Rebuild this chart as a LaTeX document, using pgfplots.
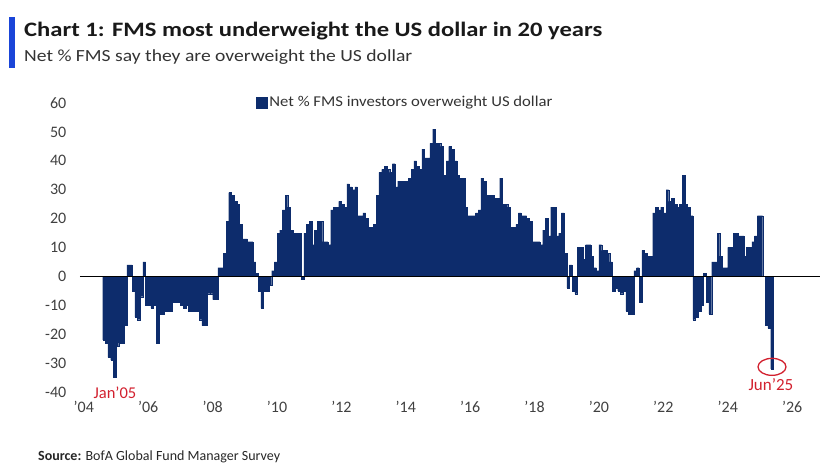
\documentclass[border=0pt]{standalone}
\usepackage{graphicx}
\usepackage{pgfplots}
\pgfplotsset{compat=1.18}
\usepackage{pgfplotstable}
\usepackage{fontspec}
\setmainfont{Carlito}

\definecolor{barnavy}{HTML}{0D2C6C}
\definecolor{accentblue}{HTML}{1A45D8}
\definecolor{tickgray}{HTML}{404040}
\definecolor{notered}{HTML}{D2202E}

% Net % of FMS investors overweight the US dollar, monthly
% (m = months since Jan 2004)
\pgfplotstableread{
m v
8 -22
9 -23
10 -28
11 -29
12 -35
13 -24
14 -23
15 -23
16 -17
17 4
18 4
19 -5
20 -14
21 -15
22 -7
23 5
24 -10
25 -10
26 -11
27 -10
28 -23
29 -13
30 -13
31 -12
32 -12
33 -12
34 -9
35 -9
36 -9
37 -10
38 -11
39 -10
40 -12
41 -12
42 -12
43 -12
44 -15
45 -17
46 -17
47 -6
48 -6
49 -8
50 -8
51 3
52 3
53 8
54 19
55 29
56 28
57 26
58 25
59 18
60 13
61 13
62 12
63 12
64 5
65 1
66 -5
67 -11
68 -5
69 -5
70 -3
71 2
72 5
73 15
74 16
75 23
76 28
77 24
78 16
79 15
80 15
81 15
82 -1
83 15
84 18
85 19
86 11
87 16
88 19
89 19
90 12
91 12
92 11
93 23
94 24
95 24
96 26
97 25
98 24
99 32
100 31
101 30
102 31
103 21
104 21
105 22
106 20
107 17
108 17
109 18
110 28
111 36
112 37
113 38
114 37
115 36
116 39
117 31
118 33
119 33
120 33
121 33
122 34
123 37
124 40
125 38
126 37
127 44
128 41
129 41
130 46
131 51
132 46
133 46
134 45
135 35
136 40
137 45
138 44
139 40
140 35
141 34
142 34
143 24
144 21
145 21
146 21
147 22
148 23
149 34
150 33
151 28
152 28
153 28
154 27
155 27
156 34
157 25
158 25
159 24
160 17
161 17
162 18
163 22
164 21
165 21
166 20
167 19
168 12
169 12
170 12
171 11
172 16
173 20
174 14
175 24
176 24
177 14
178 15
179 22
180 8
181 -4
182 4
183 -5
184 -6
185 10
186 10
187 6
188 11
189 11
190 7
191 3
192 2
193 11
194 9
195 9
196 8
197 5
198 -5
199 -4
200 -5
201 -6
202 -5
203 -12
204 -13
205 -13
206 2
207 3
208 -9
209 9
210 8
211 7
212 7
213 22
214 24
215 23
216 24
217 22
218 30
219 26
220 27
221 25
222 24
223 25
224 35
225 25
226 24
227 21
228 -15
229 -14
230 -12
231 -10
232 1
233 -9
234 -13
235 5
236 5
237 15
238 7
239 3
240 3
241 10
242 10
243 15
244 15
245 14
246 14
247 7
248 10
249 10
250 12
251 14
252 21
253 21
254 0
255 -17
256 -18
257 -32
}\usdata

\begin{document}
\begin{tikzpicture}[x=1pt,y=1pt]
\path[use as bounding box] (0,0) rectangle (830,468);

% heading
\fill[accentblue] (9,400) rectangle (15,451);
\node[anchor=base west, inner sep=0, text=black!90]
  at (24,431) {\resizebox{578pt}{\height}{\fontsize{20.5}{24}\selectfont\bfseries Chart 1: FMS most underweight the US dollar in 20 years}};
\node[anchor=base west, inner sep=0, text=black!80]
  at (24,406) {\resizebox{388pt}{\height}{\fontsize{17}{20}\selectfont Net \% FMS say they are overweight the US dollar}};

\begin{axis}[
  at={(79.8pt,76pt)}, anchor=south west,
  scale only axis, width=740.5pt, height=289pt,
  xmin=-1, xmax=275, ymin=-40, ymax=60,
  axis line style={draw=none},
  major tick length=0pt,
  xtick={0.5,24.5,48.5,72.5,96.5,120.5,144.5,168.5,192.5,216.5,240.5,264.5},
  xticklabels={'04,'06,'08,'10,'12,'14,'16,'18,'20,'22,'24,'26},
  ytick={-40,-30,-20,-10,0,10,20,30,40,50,60},
  /pgf/number format/assume math mode=true,
  tick label style={font=\fontsize{16}{16}\selectfont, text=tickgray},
  yticklabel style={anchor=east, xshift=-10pt},
  xticklabel style={anchor=north, yshift=-6pt},
  clip=false,
  legend style={at={(0.238,1.003)}, anchor=west, draw=none, fill=none,
    font=\fontsize{15}{15}\selectfont, text=black!80, inner sep=0pt,
    legend cell align=left},
  legend image code/.code={\fill[#1] (0pt,-5.5pt) rectangle (11pt,5.5pt);},
]
\addplot[ybar, bar width=1, bar shift=0pt, fill=barnavy, draw=barnavy, line width=0.2pt]
  table[x=m, y=v] {\usdata};
\addlegendentry{\resizebox{283pt}{\height}{Net \% FMS investors overweight US dollar}}

% zero line
\addplot[black, line width=0.8pt, forget plot] coordinates {(-1,0) (275,0)};

% highlighted readings
\node[text=notered, font=\fontsize{16.5}{16}\selectfont] at (axis cs:12.1,-40.3) {Jan'05};
\draw[notered, line width=1.3pt] (axis cs:257,-31.3) ellipse [x radius=14pt, y radius=8.5pt];
\node[text=notered, font=\fontsize{17}{16}\selectfont] at (axis cs:256.6,-37.3) {Jun'25};
\end{axis}

\node[anchor=base west, inner sep=0, text=black!85]
  at (38,7) {\fontsize{14}{16}\selectfont\textbf{Source:} BofA Global Fund Manager Survey};
\end{tikzpicture}
\end{document}
